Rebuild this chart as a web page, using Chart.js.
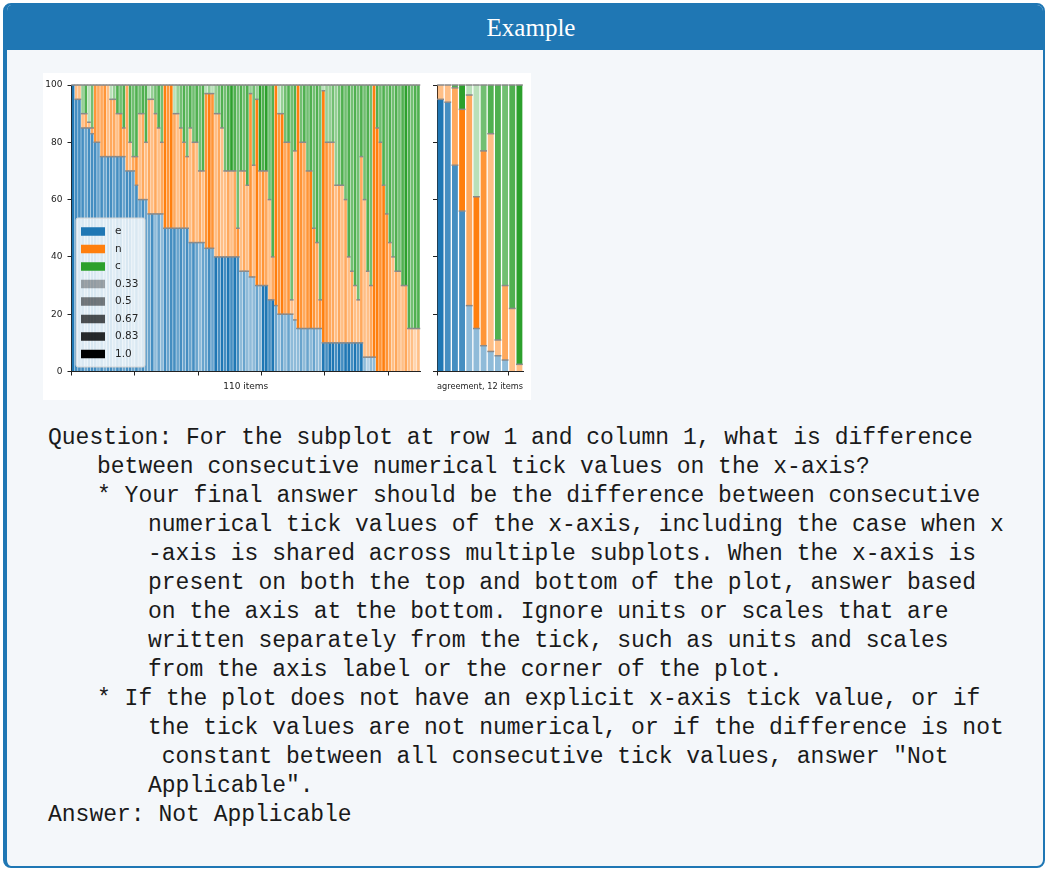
<!DOCTYPE html>
<html>
<head>
<meta charset="utf-8">
<script src="https://cdn.jsdelivr.net/npm/chart.js@4.4.1/dist/chart.umd.min.js"></script>
<style>
html, body { margin: 0; padding: 0; background: #fff; }
body { width: 1045px; height: 869px; position: relative; overflow: hidden; }
.card { position: absolute; left: 3px; top: 3px; width: 1036px; height: 861px;
  border: 2px solid #1f77b4; border-left-width: 4px; border-radius: 8px;
  background: #f4f7fa; overflow: hidden; }
.card .head { position: absolute; left: 0; top: 0; right: 0; height: 45px;
  background: #1f77b4; color: #fff; font: 25px "Liberation Serif", serif;
  line-height: 45px; text-align: center; padding-left: 12px; box-sizing: border-box; }
.plot { position: absolute; left: 43px; top: 73px; width: 488px; height: 327px; background: #fff; }
.plot canvas { position: absolute; top: 0; }
.l { position: absolute; font: 23px "Liberation Mono", monospace; white-space: pre;
  line-height: 29px; color: #1a1a1a; }
</style>
</head>
<body>
<div class="card"><div class="head">Example</div></div>
<div class="plot">
  <canvas id="leftChart" width="385" height="327" style="left:0"></canvas>
  <canvas id="rightChart" width="103" height="327" style="left:385px"></canvas>
</div>
<div id="qa"></div>
<script>
// 110 items (sorted by e share)
const eShare = [100,95,95,85,85,85,83,80,80,75,
  75,75,75,75,75,75,75,70,70,70,
  65,60,60,60,55,55,55,55,55,50,
  50,50,50,50,50,50,50,45,45,45,
  45,45,43,43,43,40,40,40,40,40,
  40,40,40,35,35,35,33,33,30,30,
  30,30,25,25,23,20,20,20,20,20,
  18,15,15,15,15,15,15,15,15,10,
  10,10,10,10,10,10,10,10,10,10,
  10,10,5,5,5,5,0,0,0,0,
  0,0,0,0,0,0,0,0,0,0];
const nShare = [0,5,5,5,5,2,2,20,20,25,
  25,25,20,20,15,15,10,30,10,5,
  10,30,30,20,40,40,35,30,25,50,
  50,50,40,40,35,30,25,40,35,35,
  25,25,54,54,54,50,50,45,30,30,
  30,30,10,35,35,30,64,39,65,40,
  40,40,35,15,77,70,70,60,60,5,
  59,85,65,65,55,55,35,30,10,88,
  70,70,70,55,55,55,50,30,25,20,
  15,65,55,30,25,95,85,80,65,55,
  45,40,35,35,30,30,15,15,15,15];
const cShare = [0,0,0,10,10,13,15,0,0,0,
  0,0,5,5,10,10,15,0,20,25,
  25,10,10,20,5,5,10,15,20,0,
  0,0,10,10,15,20,25,15,20,20,
  30,30,3,3,3,10,10,15,30,30,
  30,30,50,30,30,35,3,28,5,30,
  30,30,40,60,0,10,10,20,20,75,
  23,0,20,20,30,30,50,55,75,2,
  20,20,20,35,35,35,40,60,65,70,
  75,25,40,65,70,0,15,20,35,45,
  55,60,65,65,70,70,85,85,85,85];
// agreement level of each segment (drawn as opacity)
const eAgree = [1,.83,.83,.83,.67,.83,.83,.83,.67,.83,
  .67,.83,.83,.67,.83,.83,.67,.83,.83,.67,
  .83,.67,.83,.67,.67,.83,.5,.67,.5,.83,
  .67,.83,.83,.67,.83,.67,.83,.67,.83,.67,
  .5,.67,.67,.83,.67,1,.83,1,.83,1,
  .83,1,.83,.5,.67,.5,.5,.5,.67,.5,
  1,1,.83,1,.67,.5,.67,.5,.67,.5,
  .5,.5,.67,.5,.67,.5,.67,.5,.5,1,
  .83,1,1,.83,1,.83,1,1,.83,1,
  .83,1,.5,.33,.5,.5,1,1,1,1,
  1,1,1,1,1,1,1,1,1,1];
const nAgree = [1,.5,.5,.5,.67,.5,.67,.83,.67,.67,
  .83,.5,.67,.67,.5,.83,.67,.67,.5,.67,
  .83,.5,.67,.5,.67,.5,.67,.5,.67,1,
  .83,1,.67,.5,.67,.83,.67,.5,.67,.5,
  .67,.5,.83,1,.83,.5,.67,.5,.5,.67,
  .5,.67,.83,.5,.67,.5,.83,.5,1,.67,
  .83,.67,.5,.67,1,.83,1,.67,.83,.5,
  .5,1,.83,.67,.83,1,.83,.67,.83,1,
  .83,.67,.67,.5,.67,.5,.67,.5,.67,.5,
  .5,.67,.5,.5,.67,1,1,.83,1,.83,
  .67,.5,.67,.5,.5,.67,.5,.5,.33,.5];
const cAgree = [1,1,1,.5,.83,.33,.67,1,1,1,
  1,1,.33,.5,.83,.67,.83,1,.83,.67,
  .83,.67,.83,.83,.33,.5,.67,.83,.67,1,
  1,1,.33,.5,.67,.83,.67,.83,.67,.83,
  .67,.83,.33,.5,.33,.5,.67,.83,.67,.83,
  1,.83,.67,.83,.67,.83,.5,.67,.5,1,
  .83,1,.67,.83,1,.33,.5,.67,.83,.67,
  .83,1,.67,.83,.67,.83,.67,.83,.67,.33,
  .5,.5,.67,.5,.67,.83,.67,.83,.67,.83,
  .67,.83,.67,.83,.67,1,.83,.67,.83,.67,
  .83,.67,.83,.67,.83,1,.83,.67,.83,.83];

// agreement subplot, 12 items
const eShare2 = [95,94,72,56,23,15,9,7,5.5,4,0,0];
const nShare2 = [5,6,27,35.5,73.5,46,68,76,5.5,26,22,2.5];
const cShare2 = [0,0,1,8.5,3.5,39,23,17,89,70,78,97.5];
const eAgree2 = [1,.83,.83,.83,.5,.5,.5,.5,.5,.5,1,1];
const nAgree2 = [.5,.5,.67,1,.67,1,.83,.5,.5,.67,.5,.5];
const cAgree2 = [1,1,.83,1,.33,.33,.67,.83,.83,.67,.83,1];

const labels = ['e', 'n', 'c'];
const agreeLevels = ['0.33', '0.5', '0.67', '0.83', '1.0'];
const yTickStep = 20;

const colors = { e: [31,119,180], n: [255,127,14], c: [44,160,44] };
function rgba(c, a) { return 'rgba(' + c[0] + ',' + c[1] + ',' + c[2] + ',' + a + ')'; }

Chart.defaults.font.family = '"DejaVu Sans", sans-serif';
Chart.defaults.color = '#222';

const capPlugin = {
  id: 'caps',
  afterDatasetsDraw(chart) {
    const ctx = chart.ctx;
    ctx.save();
    ctx.strokeStyle = '#8a8a8a';
    ctx.lineWidth = 1.5;
    chart.data.datasets.forEach(function(ds, di) {
      chart.getDatasetMeta(di).data.forEach(function(bar, i) {
        if (!(ds.data[i].y > 0)) return;
        const half = bar.width / 2 + 0.5;
        ctx.beginPath();
        ctx.moveTo(bar.x - half, bar.y);
        ctx.lineTo(bar.x + half, bar.y);
        ctx.stroke();
      });
    });
    ctx.restore();
  }
};

const boxLegend = {
  id: 'boxLegend',
  afterDraw(chart) {
    const ctx = chart.ctx, a = chart.chartArea;
    const x0 = a.left + 4.5, y0 = a.top + 133, w = 69, h = 149;
    ctx.save();
    ctx.fillStyle = 'rgba(255,255,255,0.8)';
    ctx.strokeStyle = '#d4d4d4';
    ctx.lineWidth = 1;
    ctx.beginPath();
    ctx.roundRect(x0, y0, w, h, 2);
    ctx.fill();
    ctx.stroke();
    const items = labels.map(function(l) { return { text: l, color: rgba(colors[l], 1) }; })
      .concat(agreeLevels.map(function(l) { return { text: l, color: 'rgba(0,0,0,' + l + ')' }; }));
    ctx.font = '10.5px "DejaVu Sans"';
    ctx.textBaseline = 'middle';
    items.forEach(function(it, k) {
      const cy = y0 + 13.5 + k * 17.5;
      ctx.fillStyle = it.color;
      ctx.fillRect(x0 + 5, cy - 4.25, 24, 8.5);
      ctx.fillStyle = '#262626';
      ctx.fillText(it.text, x0 + 39, cy);
    });
    ctx.restore();
  }
};

function makeDatasets(e, n, c, ea, na, ca, barPct) {
  const series = [[e, ea, 'e'], [n, na, 'n'], [c, ca, 'c']];
  return series.map(function(s) {
    return {
      label: s[2],
      data: s[0].map(function(v, i) { return { x: i + 0.5, y: v }; }),
      backgroundColor: s[1].map(function(al) { return rgba(colors[s[2]], al); }),
      borderWidth: 0,
      inflateAmount: 0,
      barPercentage: barPct,
      categoryPercentage: 1.0
    };
  });
}

function makeChart(id, datasets, xMax, xStep, xTitle, yWidth, showYLabels, plugins) {
  const ctx = document.getElementById(id).getContext('2d');
  return new Chart(ctx, {
    type: 'bar',
    data: { datasets: datasets },
    plugins: plugins,
    options: {
      responsive: false,
      animation: false,
      devicePixelRatio: 1,
      layout: { padding: { top: 12, right: 8, left: 0, bottom: 0 } },
      plugins: { legend: { display: false }, tooltip: { enabled: false } },
      scales: {
        x: {
          type: 'linear', min: 0, max: xMax, stacked: true, offset: false,
          afterFit: function(s) { s.height = 28.5; },
          ticks: { stepSize: xStep, includeBounds: false, autoSkip: false, maxRotation: 0,
            callback: function() { return ''; } },
          grid: { drawOnChartArea: false, drawTicks: true, tickLength: 4, color: '#222', offset: false },
          border: { display: true, color: '#222', width: 1 },
          title: { display: true, text: xTitle, color: '#222',
            font: { size: 9 }, padding: { top: 0, bottom: 8 } }
        },
        y: {
          min: 0, max: 100, stacked: true,
          afterFit: function(s) { s.width = yWidth; },
          ticks: { stepSize: yTickStep, padding: 5, color: '#222', font: { size: 9 },
            callback: function(v) { return showYLabels ? v : ''; } },
          grid: { drawOnChartArea: false, tickLength: 4, color: '#222' },
          border: { display: true, color: '#222', width: 1 }
        }
      }
    }
  });
}

makeChart('leftChart',
  makeDatasets(eShare, nShare, cShare, eAgree, nAgree, cAgree, 0.85),
  110, 20, '110 items', 28.5, true, [capPlugin, boxLegend]);
makeChart('rightChart',
  makeDatasets(eShare2, nShare2, cShare2, eAgree2, nAgree2, cAgree2, 0.82),
  12, 10, 'agreement, 12 items', 9, false, [capPlugin]);

// question text under the figure
const qaLines = [
  [48, 'Question: For the subplot at row 1 and column 1, what is difference'],
  [97, 'between consecutive numerical tick values on the x-axis?'],
  [97, '* Your final answer should be the difference between consecutive'],
  [148, 'numerical tick values of the x-axis, including the case when x'],
  [148, '-axis is shared across multiple subplots. When the x-axis is'],
  [148, 'present on both the top and bottom of the plot, answer based'],
  [148, 'on the axis at the bottom. Ignore units or scales that are'],
  [148, 'written separately from the tick, such as units and scales'],
  [148, 'from the axis label or the corner of the plot.'],
  [97, '* If the plot does not have an explicit x-axis tick value, or if'],
  [148, 'the tick values are not numerical, or if the difference is not'],
  [148, ' constant between all consecutive tick values, answer "Not'],
  [148, 'Applicable".'],
  [48, 'Answer: Not Applicable']
];
const qa = document.getElementById('qa');
qaLines.forEach(function(l, k) {
  const d = document.createElement('div');
  d.className = 'l';
  d.style.left = l[0] + 'px';
  d.style.top = (438 + k * 29.07 - 14.5) + 'px';
  d.textContent = l[1];
  qa.appendChild(d);
});
</script>
</body>
</html>
